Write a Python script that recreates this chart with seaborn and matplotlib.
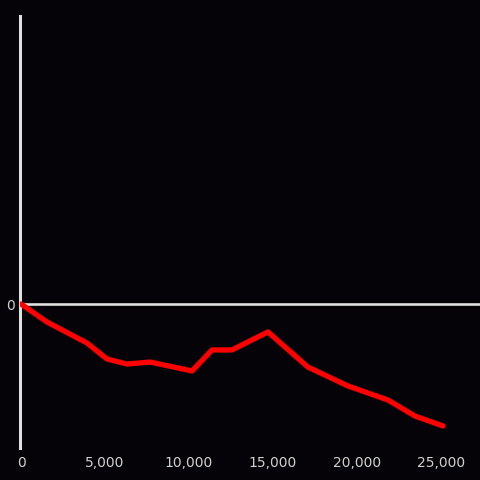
import pandas as pd
import matplotlib
matplotlib.use("Agg")
import matplotlib.pyplot as plt
import seaborn as sns

# values
x_vals = [0, 1550, 3930, 5120, 6310, 7680, 10180, 11370, 12560, 14700, 17080, 19460, 21850, 23450, 25120]
y_vals = [0.0, -0.125, -0.271, -0.382, -0.417, -0.403, -0.465, -0.319, -0.319, -0.194, -0.438, -0.569, -0.667, -0.778, -0.847]
x_ticks = [0, 5000, 10000, 15000, 20000, 25000]

df = pd.DataFrame({"x": x_vals, "y": y_vals})

bg = "#050307"
sns.set_style("dark", {"axes.facecolor": bg, "figure.facecolor": bg})

fig = plt.figure(figsize=(4.8, 4.8), dpi=100)
ax = fig.add_axes([20 / 480, 32 / 480, 460 / 480, 432 / 480])

ax.axhline(0, color="#e0e0e0", lw=1.9, zorder=1)
sns.lineplot(data=df, x="x", y="y", color="#ff0000", lw=3.8, ax=ax, zorder=3)

ax.set_xlim(-60, 27320)
ax.set_ylim(-1, 2)
ax.set_xticks(x_ticks)
ax.set_xticklabels([f"{t:,}" for t in x_ticks])
ax.set_yticks([0])
ax.set_yticklabels(["0"])
ax.tick_params(colors="#d0d0d0", labelsize=10, length=0, pad=6)
ax.tick_params(axis="y", pad=4)
ax.set_xlabel("")
ax.set_ylabel("")
ax.grid(False)

for side in ["top", "right", "bottom"]:
    ax.spines[side].set_visible(False)
ax.spines["left"].set_color("#e0e0e0")
ax.spines["left"].set_linewidth(2.2)

fig.savefig("out.png", dpi=100, facecolor=bg)
